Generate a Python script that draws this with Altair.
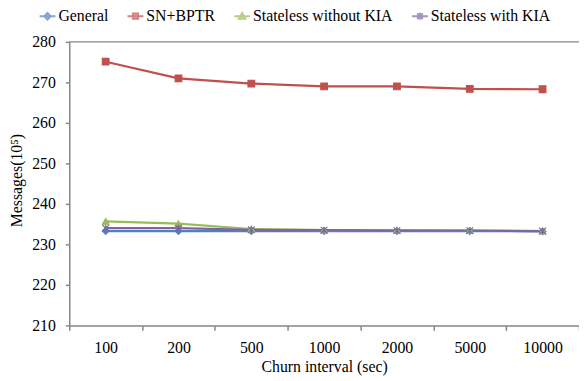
import altair as alt
import pandas as pd

intervals = ["100", "200", "500", "1000", "2000", "5000", "10000"]
series_names = ["General", "SN+BPTR", "Stateless without KIA", "Stateless with KIA"]
general = [233.3, 233.3, 233.3, 233.3, 233.3, 233.3, 233.2]
sn_bptr = [275.1, 271.0, 269.7, 269.0, 269.0, 268.4, 268.3]
stateless_no_kia = [235.7, 235.1, 233.8, 233.5, 233.5, 233.4, 233.3]
stateless_kia = [234.0, 234.0, 233.6, 233.5, 233.4, 233.4, 233.3]
colors = ["#4F81BD", "#C0504D", "#9BBB59", "#8064A2"]
y_ticks = [210, 220, 230, 240, 250, 260, 270, 280]

rows = []
for name, vals in zip(series_names, [general, sn_bptr, stateless_no_kia, stateless_kia]):
    for iv, v in zip(intervals, vals):
        rows.append({"interval": iv, "series": name, "value": v})
df = pd.DataFrame(rows)

FONT = "Liberation Serif"
AX = "#868686"

point_shapes = ["diamond", "square", "triangle-up",
                "M-1,-1L1,1M-1,1L1,-1M0,-1V1"]
legend_shapes = [
    "M-1,0H1M0,-0.42L0.42,0L0,0.42L-0.42,0Z",
    "M-1,0H1M-0.33,-0.33H0.33V0.33H-0.33Z",
    "M-1,0H1M0,-0.4L0.42,0.33H-0.42Z",
    "M-1,0H1M-0.35,-0.35L0.35,0.35M-0.35,0.35L0.35,-0.35M0,-0.42V0.42",
]

x_enc = alt.X(
    "interval:N", sort=intervals, bandPosition=0.5,
    scale=alt.Scale(type="band", paddingInner=0, paddingOuter=0),
    axis=alt.Axis(title="Churn interval (sec)", tickBand="extent", labelAngle=0,
                  labelFont=FONT, titleFont=FONT, labelFontSize=16, titleFontSize=16,
                  titleY=47, titleBaseline="alphabetic"),
)
y_enc = alt.Y(
    "value:Q",
    scale=alt.Scale(domain=[210, 280], nice=False, zero=False),
    axis=alt.Axis(title="Messages(10⁵)", values=y_ticks, grid=False,
                  labelFont=FONT, titleFont=FONT, labelFontSize=16, titleFontSize=16,
                  tickSize=4, labelPadding=10, titleAngle=-90,
                  titleX=-53, titleY=140, titleBaseline="middle", titleAlign="center"),
)
col_scale = alt.Scale(domain=series_names, range=colors)

base = alt.Chart(df)

lines = base.mark_line(strokeWidth=2.25).encode(
    x=x_enc, y=y_enc,
    stroke=alt.Stroke("series:N", sort=series_names, scale=col_scale, legend=None),
)
points = base.mark_point(filled=True, size=45, strokeWidth=1.2, opacity=1).encode(
    x=x_enc, y=y_enc,
    fill=alt.Fill("series:N", sort=series_names, scale=col_scale, legend=None),
    stroke=alt.Stroke("series:N", sort=series_names, scale=col_scale, legend=None),
    shape=alt.Shape("series:N", sort=series_names,
                    scale=alt.Scale(domain=series_names, range=point_shapes), legend=None),
)
leg_legend = alt.Legend(title=None, orient="none", direction="horizontal",
                        legendX=-31, legendY=-35, labelFont=FONT, labelFontSize=16)
legend_layer = base.transform_filter("false").mark_point(filled=True).encode(
    x=x_enc, y=y_enc,
    fill=alt.Fill("series:N", sort=series_names, scale=col_scale, legend=leg_legend),
    stroke=alt.Stroke("series:N", sort=series_names, scale=col_scale, legend=leg_legend),
    shape=alt.Shape("series:N", sort=series_names,
                    scale=alt.Scale(domain=series_names, range=legend_shapes),
                    legend=leg_legend),
)
top_rule = alt.Chart(pd.DataFrame({"a": [0]})).mark_rule(color=AX, strokeWidth=1.5).encode(
    y=alt.datum(280)
)

chart = alt.layer(top_rule, lines, points, legend_layer).resolve_scale(
    shape="independent", fill="independent", stroke="independent"
).resolve_legend(
    shape="independent", fill="independent", stroke="independent"
).properties(
    width=516, height=287,
    autosize=alt.AutoSizeParams(type="none"),
    padding={"left": 62, "top": 32, "right": 0, "bottom": 54},
).configure(font=FONT).configure_view(stroke=None).configure_axis(
    labelFont=FONT, titleFont=FONT, labelFontSize=16, titleFontSize=16,
    labelColor="black", titleColor="black", titleFontWeight="normal",
    domainColor=AX, tickColor=AX, domainWidth=1.5, tickWidth=1.5,
).configure_axisX(
    tickSize=5, labelPadding=9,
).configure_legend(
    labelFont=FONT, labelFontSize=16, labelColor="black", labelOffset=2,
    symbolSize=256, symbolStrokeWidth=2, columnPadding=15, padding=0,
    labelLimit=400,
)

chart.save("out.html", embed_options={"renderer": "svg", "actions": False})
